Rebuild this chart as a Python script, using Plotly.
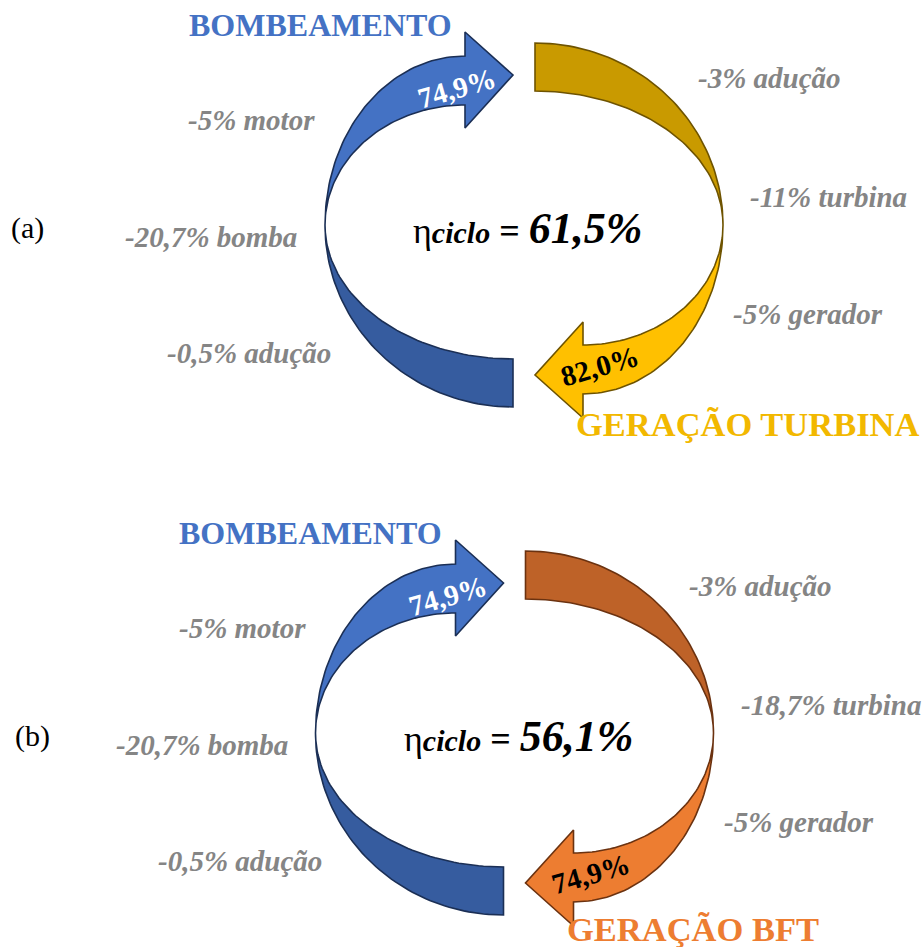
import numpy as np
import plotly.graph_objects as go

# --- diagram content -------------------------------------------------------
PANELS = ["(a)", "(b)"]
PUMP_TITLE = ["BOMBEAMENTO", "BOMBEAMENTO"]
GEN_TITLE = ["GERAÇÃO TURBINA", "GERAÇÃO BFT"]
PUMP_EFF = ["74,9%", "74,9%"]
GEN_EFF = ["82,0%", "74,9%"]
CYCLE_EFF = ["61,5%", "56,1%"]
PUMP_LOSSES = [
    ["-5% motor", "-20,7% bomba", "-0,5% adução"],
    ["-5% motor", "-20,7% bomba", "-0,5% adução"],
]
GEN_LOSSES = [
    ["-3% adução", "-11% turbina", "-5% gerador"],
    ["-3% adução", "-18,7% turbina", "-5% gerador"],
]

# --- styles / layout --------------------------------------------------------
W, H = 924, 947
CENTERS = [(524, 225), (514.5, 733)]
PANEL_X = [10, 14]
GEN_TITLE_DY = [199, 196]
GEN_COLORS = [
    {"dark": "#C99A00", "light": "#FFC000", "line": "#6E5300", "text": "#F2B800", "label": "black"},
    {"dark": "#BE6228", "light": "#ED7D31", "line": "#6B3210", "text": "#ED7D31", "label": "black"},
]
PUMP_COLORS = {"dark": "#365C9F", "light": "#4472C4", "line": "#1B2F55", "text": "#4472C4", "label": "white"}
GRAY = "#858585"
SERIF = "Liberation Serif, Times New Roman, serif"


def arc(ecx, ecy, rx, ry, t0, t1, n=60):
    t = np.linspace(t0, t1, n)
    return list(ecx + rx * np.cos(t)), list(ecy + ry * np.sin(t))


def curved_arrow(cx, cy):
    """Return (back band, front band with head) polygons for the left arrow."""
    # back band: lower half, ends in a flat cut
    ox, oy = arc(cx - 11, cy, 188, 182, np.pi, np.pi / 2)
    ix, iy = arc(cx - 11, cy, 188, 134, np.pi / 2, np.pi)
    back = (ox + ix + [ox[0]], oy + iy + [oy[0]])
    # front band: upper half, ends in an arrow head
    tx, ty = arc(cx - 59, cy, 140, 169, np.pi, 1.5 * np.pi)
    bx, by = arc(cx - 59, cy, 140, 120, 1.5 * np.pi, np.pi)
    hx = [cx - 59, cx - 11, cx - 59]
    hy = [cy - 193, cy - 150, cy - 97]
    front = (tx + hx + bx + [tx[0]], ty + hy + by + [ty[0]])
    return back, front


def rotate(poly, cx, cy):
    xs, ys = poly
    return [2 * cx - x for x in xs], [2 * cy - y for y in ys]


def add_poly(fig, poly, fill, line):
    fig.add_trace(go.Scatter(
        x=poly[0], y=poly[1], mode="lines", fill="toself",
        fillcolor=fill, line=dict(color=line, width=1.6),
        hoverinfo="skip", showlegend=False,
    ))


def text(fig, x, y, s, size, color, anchor="center", angle=0):
    fig.add_annotation(
        x=x, y=y, xref="x", yref="y", text=s, showarrow=False,
        xanchor=anchor, yanchor="middle", textangle=angle, borderpad=0,
        font=dict(family=SERIF, size=size, color=color),
    )


fig = go.Figure()

for i, (cx, cy) in enumerate(CENTERS):
    back, front = curved_arrow(cx, cy)
    gc = GEN_COLORS[i]
    add_poly(fig, back, PUMP_COLORS["dark"], PUMP_COLORS["line"])
    add_poly(fig, front, PUMP_COLORS["light"], PUMP_COLORS["line"])
    add_poly(fig, rotate(back, cx, cy), gc["dark"], gc["line"])
    add_poly(fig, rotate(front, cx, cy), gc["light"], gc["line"])

    # titles
    text(fig, cx - 204, cy - 200, f"<b>{PUMP_TITLE[i]}</b>", 32, PUMP_COLORS["text"])
    text(fig, cx + 51, cy + GEN_TITLE_DY[i], f"<b>{GEN_TITLE[i]}</b>", 34.5, gc["text"], anchor="left")

    # efficiencies inside arrows
    text(fig, cx - 67, cy - 137, f"<b>{PUMP_EFF[i]}</b>", 29, PUMP_COLORS["label"], angle=-16)
    text(fig, cx + 76, cy + 141, f"<b>{GEN_EFF[i]}</b>", 29, gc["label"], angle=-16)

    # cycle efficiency
    text(fig, cx - 112, cy + 3,
         "η<b><i><span style='font-size:30px'>ciclo</span></i> = "
         f"<i><span style='font-size:44px'>{CYCLE_EFF[i]}</span></i></b>",
         36, "black", anchor="left")

    # panel label
    text(fig, PANEL_X[i], cy + 3, PANELS[i], 30, "black", anchor="left")

    # losses
    for dy, dxr, s in zip([-105, 12, 128], [-208, -226, -192], PUMP_LOSSES[i]):
        text(fig, cx + dxr, cy + dy, f"<b><i>{s}</i></b>", 29, GRAY, anchor="right")
    for dy, dxl, s in zip([-147, -28, 89], [173, 225, 208], GEN_LOSSES[i]):
        text(fig, cx + dxl, cy + dy, f"<b><i>{s}</i></b>", 29, GRAY, anchor="left")

fig.update_layout(
    width=W, height=H, margin=dict(l=0, r=0, t=0, b=0),
    paper_bgcolor="white", plot_bgcolor="white",
    xaxis=dict(range=[0, W], visible=False, fixedrange=True),
    yaxis=dict(range=[H, 0], visible=False, fixedrange=True),
)

# drop the default body margin so the figure fills the window exactly
fig.write_html(
    "out.html",
    config={"displayModeBar": False},
    post_script="document.body.style.margin='0';",
)
